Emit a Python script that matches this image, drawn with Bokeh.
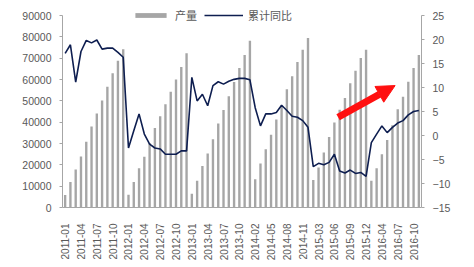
from bokeh.plotting import figure
from bokeh.models import (ColumnDataSource, Range1d, LinearAxis, FixedTicker,
                          Legend, LegendItem, Arrow, NormalHead)
from bokeh.embed import file_html
from bokeh.resources import INLINE

categories = [
    "2011-01", "2011-02", "2011-03", "2011-04", "2011-05", "2011-06",
    "2011-07", "2011-08", "2011-09", "2011-10", "2011-11", "2011-12",
    "2012-01", "2012-02", "2012-03", "2012-04", "2012-05", "2012-06",
    "2012-07", "2012-08", "2012-09", "2012-10", "2012-11", "2012-12",
    "2013-01", "2013-02", "2013-03", "2013-04", "2013-05", "2013-06",
    "2013-07", "2013-08", "2013-09", "2013-10", "2013-11", "2013-12",
    "2014-02", "2014-03", "2014-04", "2014-05", "2014-06",
    "2014-07", "2014-08", "2014-09", "2014-10", "2014-11", "2014-12",
    "2015-02", "2015-03", "2015-04", "2015-05", "2015-06",
    "2015-07", "2015-08", "2015-09", "2015-10", "2015-11", "2015-12",
    "2016-02", "2016-03", "2016-04", "2016-05", "2016-06",
    "2016-07", "2016-08", "2016-09", "2016-10", "2016-11",
]

production = [
    5900, 12000, 17800, 23900, 30800, 38000, 44100, 50200, 56600, 62900, 68800, 74200,
    6000, 12000, 18400, 23800, 30200, 37300, 42800, 48400, 54200, 60000, 65900, 72300,
    6500, 12500, 19400, 25300, 32000, 39400, 45700, 52100, 58800, 65400, 71500, 78200,
    13200, 20600, 27300, 34100, 41300, 47800, 55400, 61500, 68200, 74000, 79500,
    12900, 18700, 25800, 33000, 39900, 45800, 51300, 58200, 64100, 70100, 74000,
    12500, 18400, 25000, 31600, 38600, 46000, 51900, 59000, 65400, 71500,
]

yoy = [
    17.1, 18.9, 11.1, 17.5, 19.8, 19.3, 19.9, 18.0, 18.2, 18.2, 17.3, 16.3,
    -2.6, 1.0, 4.5, 0.3, -1.8, -2.6, -2.8, -3.9, -3.9, -3.9, -3.2, -3.2,
    12.1, 7.2, 8.6, 6.2, 10.4, 11.2, 10.7, 11.3, 11.7, 11.9, 11.9, 11.6,
    5.8, 2.0, 4.5, 4.5, 4.8, 6.3, 5.2, 4.0, 3.8, 3.1, 1.7,
    -6.5, -5.8, -6.1, -5.6, -3.9, -7.4, -7.8, -7.2, -7.9, -7.7, -8.5,
    -1.5, 0.3, 2.0, 0.6, 1.7, 2.6, 3.1, 4.3, 5.0, 5.2,
]

left_ticks = [0, 10000, 20000, 30000, 40000, 50000, 60000, 70000, 80000, 90000]
right_ticks = [-15, -10, -5, 0, 5, 10, 15, 20, 25]

idx = list(range(len(categories)))
src = ColumnDataSource(data=dict(x=idx, prod=production, yoy=yoy))

FONT = "Liberation Sans"
TXT = "#595959"
AXIS = "#A6A6A6"

# axis spans 192 px; frame is 10 px taller to leave room for the legend
AXIS_PX = 192.0
EXTRA_PX = 10.0
left_lo, left_hi = left_ticks[0], left_ticks[-1]
right_lo, right_hi = right_ticks[0], right_ticks[-1]
left_top = left_hi + (left_hi - left_lo) * EXTRA_PX / AXIS_PX
right_top = right_hi + (right_hi - right_lo) * EXTRA_PX / AXIS_PX

p = figure(width=474, height=267, output_backend="svg", toolbar_location=None,
           x_range=Range1d(-0.5, len(categories) - 0.5),
           y_range=Range1d(left_lo, left_top),
           min_border_left=62, min_border_right=53, min_border_top=5, min_border_bottom=60)
p.extra_y_ranges = {"right": Range1d(right_lo, right_top)}
p.xgrid.visible = False
p.ygrid.visible = False
p.outline_line_color = None
p.background_fill_color = "white"
p.border_fill_color = "white"

bars = p.vbar(x="x", top="prod", width=0.45, bottom=0, source=src,
              fill_color="#A6A6A6", line_color=None)
line = p.line(x="x", y="yoy", source=src, y_range_name="right",
              line_color="#0E1E50", line_width=1.6)

# x axis
xa = p.xaxis[0]
xa.ticker = FixedTicker(ticks=idx[::3])
xa.major_label_overrides = {i: categories[i] for i in idx[::3]}
xa.major_label_orientation = 3.14159265 / 2
xa.major_tick_line_color = None
xa.minor_tick_line_color = None
xa.axis_line_color = AXIS
xa.major_label_text_font = FONT
xa.major_label_text_font_size = "10px"
xa.major_label_text_color = TXT
xa.major_label_standoff = 10

ya = p.yaxis[0]
ya.ticker = FixedTicker(ticks=left_ticks)
ya.bounds = (left_lo, left_hi)
ya.formatter.use_scientific = False
ya.minor_tick_line_color = None
ya.major_tick_out = 3
ya.major_tick_in = 0
ya.major_tick_line_color = AXIS
ya.axis_line_color = AXIS
ya.major_label_text_font = FONT
ya.major_label_text_font_size = "10.5px"
ya.major_label_text_color = TXT
ya.major_label_standoff = 8

ra = LinearAxis(y_range_name="right", ticker=FixedTicker(ticks=right_ticks),
                bounds=(right_lo, right_hi))
ra.minor_tick_line_color = None
ra.major_tick_out = 3
ra.major_tick_in = 0
ra.major_tick_line_color = AXIS
ra.axis_line_color = AXIS
ra.major_label_text_font = FONT
ra.major_label_text_font_size = "10.5px"
ra.major_label_text_color = TXT
ra.major_label_standoff = 8
p.add_layout(ra, "right")

legend = Legend(items=[LegendItem(label="产量", renderers=[bars]),
                       LegendItem(label="累计同比", renderers=[line])],
                orientation="horizontal", location=(69, 184),
                glyph_width=39, glyph_height=6, label_standoff=5, spacing=7,
                padding=0, margin=0, border_line_color=None,
                background_fill_alpha=0,
                label_text_font="Noto Sans CJK SC", label_text_font_size="11px",
                label_text_color=TXT, label_height=16)
p.add_layout(legend, "center")

arrow = Arrow(x_start=51.7, y_start=3.8, x_end=62.5, y_end=10.4,
              y_range_name="right", line_color="#FF1010", line_width=7,
              end=NormalHead(size=18, fill_color="#FF1010", line_color="#FF1010"))
p.add_layout(arrow)

open("out.html", "w").write(file_html(p, INLINE))
